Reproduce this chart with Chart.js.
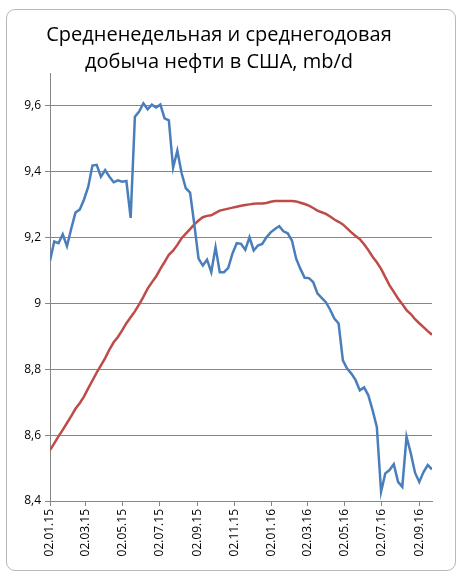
<!DOCTYPE html>
<html>
<head>
<meta charset="utf-8">
<script src="https://cdn.jsdelivr.net/npm/chart.js@4.4.1/dist/chart.umd.min.js"></script>
<style>
  html, body { margin: 0; padding: 0; background: #fff; }
  #wrap  { position: relative; width: 461px; height: 578px; overflow: hidden; }
  #frame { position: absolute; left: 6px; top: 9px; width: 448px; height: 560px;
           border: 1px solid #b9b9b9; border-radius: 9px; }
  #title { position: absolute; left: 0; top: 20px; width: 438px; text-align: center;
           font: 20px 'Open Sans', sans-serif; line-height: 27px; color: #000; }
  canvas { position: absolute; left: 0; top: 0; }
</style>
</head>
<body>
<div id="wrap">
  <div id="frame"></div>
  <canvas id="oilChart" width="461" height="578"></canvas>
  <div id="title">Средненедельная и среднегодовая<br>добыча нефти в США, mb/d</div>
</div>
<script>
// Data
const FIRST_WEEK = '02.01.15';
const WEEK_DAYS  = 7;

const tickLabels = ['02.01.15', '02.03.15', '02.05.15', '02.07.15', '02.09.15', '02.11.15',
                    '02.01.16', '02.03.16', '02.05.16', '02.07.16', '02.09.16'];
const yTicks = [8.4, 8.6, 8.8, 9, 9.2, 9.4, 9.6];

// weekly output, mb/d
const weeklyOutput = [
  9.130, 9.188, 9.183, 9.210, 9.174, 9.227, 9.276, 9.285, 9.315, 9.354,
  9.419, 9.421, 9.385, 9.405, 9.385, 9.368, 9.374, 9.370, 9.372, 9.260,
  9.567, 9.583, 9.608, 9.590, 9.604, 9.595, 9.604, 9.562, 9.556, 9.412,
  9.464, 9.396, 9.350, 9.337, 9.240, 9.136, 9.115, 9.133, 9.095, 9.171,
  9.095, 9.095, 9.108, 9.152, 9.183, 9.181, 9.163, 9.201, 9.161, 9.176,
  9.181, 9.201, 9.216, 9.226, 9.235, 9.219, 9.213, 9.191, 9.136, 9.105,
  9.078, 9.077, 9.065, 9.031, 9.017, 9.004, 8.981, 8.954, 8.939, 8.827,
  8.802, 8.787, 8.767, 8.736, 8.745, 8.721, 8.676, 8.625, 8.428, 8.484,
  8.494, 8.512, 8.458, 8.443, 8.595, 8.545, 8.486, 8.458, 8.488, 8.509,
  8.496,
];

// 52-week average, mb/d
const yearlyAverage = [
  8.555, 8.575, 8.596, 8.616, 8.637, 8.658, 8.680, 8.697, 8.717, 8.742,
  8.766, 8.790, 8.812, 8.834, 8.860, 8.882, 8.898, 8.918, 8.940, 8.958,
  8.976, 8.997, 9.020, 9.045, 9.064, 9.082, 9.105, 9.126, 9.148, 9.160,
  9.178, 9.198, 9.212, 9.226, 9.240, 9.252, 9.262, 9.266, 9.268, 9.275,
  9.282, 9.285, 9.288, 9.291, 9.294, 9.297, 9.299, 9.301, 9.303, 9.304,
  9.304, 9.305, 9.309, 9.311, 9.311, 9.311, 9.311, 9.311, 9.310, 9.306,
  9.302, 9.297, 9.290, 9.282, 9.277, 9.272, 9.264, 9.255, 9.248, 9.240,
  9.228, 9.216, 9.205, 9.195, 9.180, 9.162, 9.142, 9.125, 9.105, 9.080,
  9.055, 9.035, 9.015, 8.998, 8.980, 8.968, 8.952, 8.940, 8.928, 8.916,
  8.905,
];

// Helpers
const DAY_MS = 86400000;
function parseDate(s) {
  const [d, m, y] = s.split('.').map(Number);
  return Date.UTC(2000 + y, m - 1, d);
}
const startMs  = parseDate(FIRST_WEEK);
const tickDays = tickLabels.map(s => Math.round((parseDate(s) - startMs) / DAY_MS));
const weekDays = weeklyOutput.map((_, i) => i * WEEK_DAYS);

const toPoints = arr => arr.map((v, i) => ({ x: weekDays[i], y: v }));

const AXIS_GRAY = '#868686';

Chart.defaults.font.family = "'Open Sans', sans-serif";
Chart.defaults.font.size = 12;
Chart.defaults.color = '#000';

// Chart
const ctx = document.getElementById('oilChart').getContext('2d');
new Chart(ctx, {
  type: 'line',
  data: {
    datasets: [
      {
        label: 'Средненедельная',
        data: toPoints(weeklyOutput),
        borderColor: '#4a7ebb',
        borderWidth: 2.5,
        pointRadius: 0,
        tension: 0,
      },
      {
        label: 'Среднегодовая',
        data: toPoints(yearlyAverage),
        borderColor: '#be4b48',
        borderWidth: 2.5,
        pointRadius: 0,
        tension: 0,
      },
    ],
  },
  options: {
    responsive: false,
    animation: false,
    layout: { padding: { top: 73, right: 29, left: 0, bottom: 0 } },
    plugins: {
      legend:  { display: false },
      tooltip: { enabled: false },
    },
    scales: {
      x: {
        type: 'linear',
        min: 0,
        max: weekDays[weekDays.length - 1],
        afterBuildTicks: scale => { scale.ticks = tickDays.map(v => ({ value: v })); },
        afterFit: scale => { scale.height = 77; },
        ticks: {
          autoSkip: false,
          minRotation: 90,
          maxRotation: 90,
          padding: 3,
          callback: v => tickLabels[tickDays.indexOf(v)],
        },
        grid: { drawOnChartArea: false, drawTicks: true, tickLength: 5, color: AXIS_GRAY },
        border: { display: true, color: AXIS_GRAY },
      },
      y: {
        min: 8.4,
        max: 9.7,
        afterBuildTicks: scale => { scale.ticks = yTicks.map(v => ({ value: v })); },
        afterFit: scale => { scale.width = 50; },
        ticks: {
          padding: 4,
          callback: v => String(v).replace('.', ','),
        },
        grid: { color: AXIS_GRAY, drawTicks: true, tickLength: 5 },
        border: { display: true, color: AXIS_GRAY },
      },
    },
  },
});
</script>
</body>
</html>
